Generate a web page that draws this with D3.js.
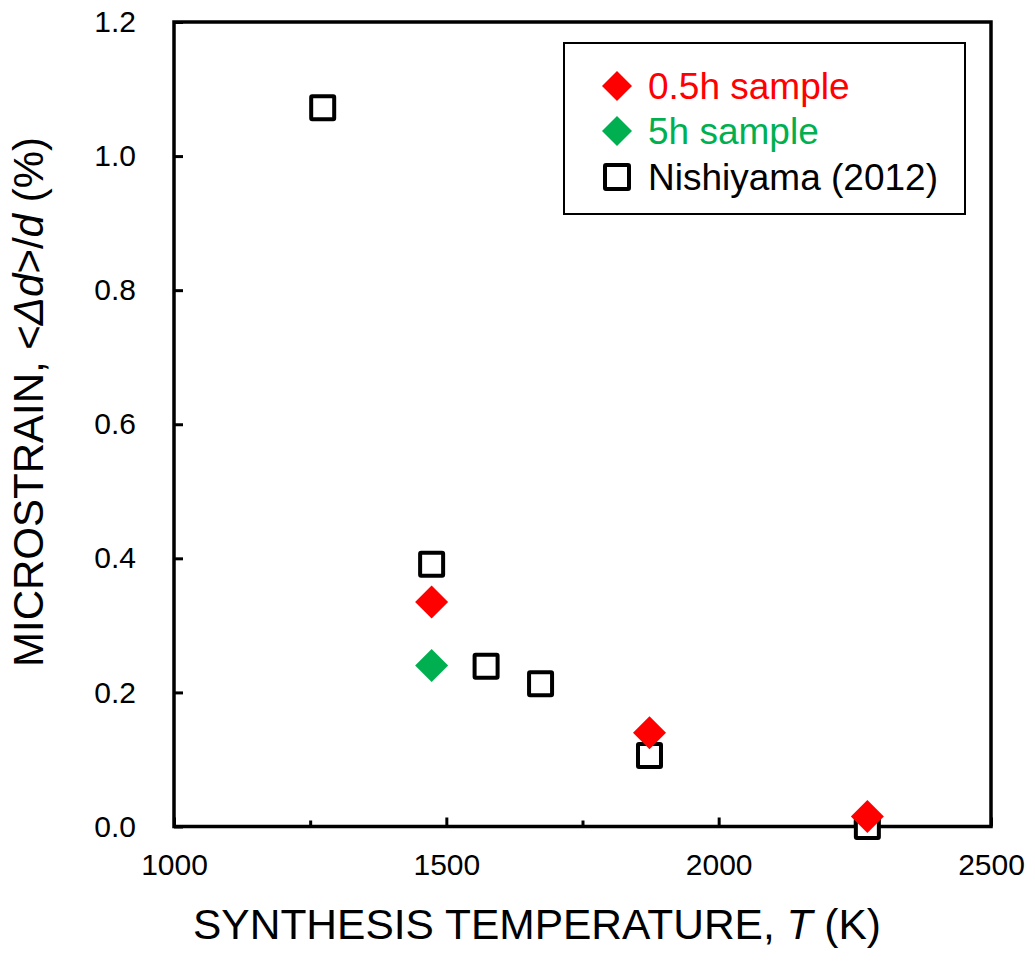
<!DOCTYPE html>
<html>
<head>
<meta charset="utf-8">
<script src="https://cdn.jsdelivr.net/npm/d3@7"></script>
<style>
  html, body { margin: 0; padding: 0; background: #fff; }
  svg { display: block; font-family: Arial, "Liberation Sans", sans-serif; }
</style>
</head>
<body>
<svg id="chart" width="1035" height="963"></svg>
<script>
// Synthesis temperatures (K) and microstrain (%)
const sampleHalfHourT = [1473, 1873, 2273];
const sampleHalfHourStrain = [0.335, 0.140, 0.015];

const sampleFiveHourT = [1473];
const sampleFiveHourStrain = [0.240];

const nishiyamaT = [1273, 1473, 1573, 1673, 1873, 2273];
const nishiyamaStrain = [1.072, 0.391, 0.239, 0.213, 0.106, 0.000];

const xMajorTicks = [1000, 1500, 2000, 2500];
const xMinorTicks = [1250, 1750, 2250];
const yTicks = [0, 0.2, 0.4, 0.6, 0.8, 1.0, 1.2];

const legendLabels = ["0.5h sample", "5h sample", "Nishiyama (2012)"];
const colors = { red: "#ff0000", green: "#00b050", black: "#000000" };

const svg = d3.select("#chart");
const plot = { left: 174, right: 991, top: 22, bottom: 826.5 };

const x = d3.scaleLinear().domain([1000, 2500]).range([plot.left, plot.right]);
const y = d3.scaleLinear().domain([0, 1.2]).range([plot.bottom, plot.top]);

// Frame
svg.append("rect")
  .attr("x", plot.left).attr("y", plot.top)
  .attr("width", plot.right - plot.left).attr("height", plot.bottom - plot.top)
  .attr("fill", "none").attr("stroke", "#000").attr("stroke-width", 3.5);

// X axis: inward ticks, labels below
const xAxis = d3.axisBottom(x).tickValues(xMajorTicks)
  .tickSizeInner(-9).tickSizeOuter(0).tickPadding(27)
  .tickFormat(d3.format("d"));
const gx = svg.append("g").attr("transform", `translate(0,${plot.bottom})`).call(xAxis);
gx.select(".domain").remove();
gx.selectAll(".tick line").attr("stroke", "#000").attr("stroke-width", 3);
gx.selectAll(".tick text").attr("font-size", 30).attr("fill", "#000")
  .attr("font-family", "Arial, 'Liberation Sans', sans-serif");

const xMinor = d3.axisBottom(x).tickValues(xMinorTicks)
  .tickSizeInner(-6).tickSizeOuter(0).tickFormat("");
const gxm = svg.append("g").attr("transform", `translate(0,${plot.bottom})`).call(xMinor);
gxm.select(".domain").remove();
gxm.selectAll(".tick line").attr("stroke", "#000").attr("stroke-width", 3);

// Y axis
const yAxis = d3.axisLeft(y).tickValues(yTicks)
  .tickSizeInner(-9).tickSizeOuter(0).tickPadding(38)
  .tickFormat(d3.format(".1f"));
const gy = svg.append("g").attr("transform", `translate(${plot.left},0)`).call(yAxis);
gy.select(".domain").remove();
gy.selectAll(".tick line").attr("stroke", "#000").attr("stroke-width", 3);
gy.selectAll(".tick text").attr("font-size", 30).attr("fill", "#000")
  .attr("font-family", "Arial, 'Liberation Sans', sans-serif");

// Axis titles
const xTitle = svg.append("text")
  .attr("x", 537).attr("y", 939)
  .attr("text-anchor", "middle").attr("font-size", 42.5).attr("fill", "#000");
xTitle.append("tspan").text("SYNTHESIS TEMPERATURE, ");
xTitle.append("tspan").attr("font-style", "italic").text("T");
xTitle.append("tspan").text(" (K)");

const yTitle = svg.append("text")
  .attr("transform", "translate(43,402) rotate(-90)")
  .attr("text-anchor", "middle").attr("font-size", 42).attr("fill", "#000");
yTitle.append("tspan").text("MICROSTRAIN, <");
yTitle.append("tspan").attr("font-style", "italic").text("Δd");
yTitle.append("tspan").text(">/");
yTitle.append("tspan").attr("font-style", "italic").text("d");
yTitle.append("tspan").text(" (%)");

// Marker shapes
const squareHalf = 11.5;
const diamondHalf = 16.5;
const diamondPath = h => `M0,${-h}L${h},0L0,${h}L${-h},0Z`;

// Reference data (open squares)
svg.append("g").selectAll("rect")
  .data(nishiyamaT.map((t, i) => [t, nishiyamaStrain[i]]))
  .join("rect")
  .attr("x", d => x(d[0]) - squareHalf).attr("y", d => y(d[1]) - squareHalf)
  .attr("width", squareHalf * 2).attr("height", squareHalf * 2)
  .attr("fill", "#fff").attr("stroke", colors.black).attr("stroke-width", 4)
  .attr("rx", 1);

// 5h sample
svg.append("g").selectAll("path")
  .data(sampleFiveHourT.map((t, i) => [t, sampleFiveHourStrain[i]]))
  .join("path")
  .attr("transform", d => `translate(${x(d[0])},${y(d[1])})`)
  .attr("d", diamondPath(diamondHalf)).attr("fill", colors.green);

// 0.5h sample
svg.append("g").selectAll("path")
  .data(sampleHalfHourT.map((t, i) => [t, sampleHalfHourStrain[i]]))
  .join("path")
  .attr("transform", d => `translate(${x(d[0])},${y(d[1])})`)
  .attr("d", diamondPath(diamondHalf)).attr("fill", colors.red);

// Legend
const legend = svg.append("g");
legend.append("rect")
  .attr("x", 564).attr("y", 43).attr("width", 401).attr("height", 171)
  .attr("fill", "#fff").attr("stroke", "#000").attr("stroke-width", 2);

const legendRows = [
  { label: legendLabels[0], color: colors.red, shape: "diamond", cy: 86 },
  { label: legendLabels[1], color: colors.green, shape: "diamond", cy: 131 },
  { label: legendLabels[2], color: colors.black, shape: "square", cy: 177 }
];
legendRows.forEach(r => {
  if (r.shape === "diamond") {
    legend.append("path")
      .attr("transform", `translate(617,${r.cy})`)
      .attr("d", diamondPath(15)).attr("fill", r.color);
  } else {
    legend.append("rect")
      .attr("x", 617 - 12).attr("y", r.cy - 12).attr("width", 24).attr("height", 24)
      .attr("fill", "#fff").attr("stroke", "#000").attr("stroke-width", 4).attr("rx", 1);
  }
  legend.append("text")
    .attr("x", 648).attr("y", r.cy).attr("dy", "0.36em")
    .attr("font-size", 37).attr("fill", r.color).text(r.label);
});
</script>
</body>
</html>
